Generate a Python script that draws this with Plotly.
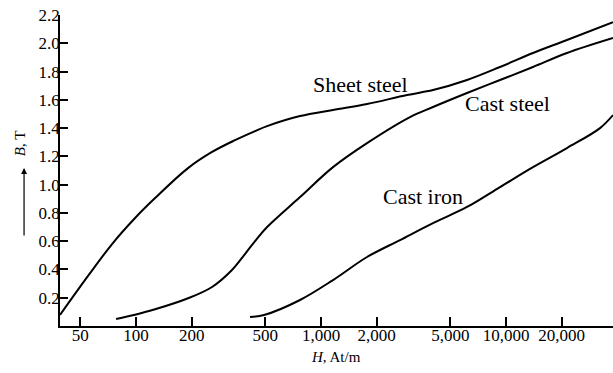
import math
import plotly.graph_objects as go

# B-H magnetization curves (H in At/m, B in T)
sheet_H = [38.8, 55, 74.2, 98.8, 126.7, 191, 257.5, 343, 440, 511, 770, 1161, 1773, 2917, 4031, 6155, 9281, 13990, 21360, 37880]
sheet_B = [0.078, 0.354, 0.58, 0.764, 0.905, 1.117, 1.231, 1.315, 1.379, 1.414, 1.485, 1.528, 1.57, 1.634, 1.669, 1.74, 1.832, 1.931, 2.023, 2.15]

cast_steel_H = [78, 98.8, 126.7, 191, 257.5, 330, 388, 440, 511, 770, 1161, 1773, 3028, 4031, 6155, 9281, 13990, 21360, 37880]
cast_steel_B = [0.05, 0.08, 0.118, 0.196, 0.276, 0.396, 0.509, 0.601, 0.70, 0.912, 1.124, 1.294, 1.478, 1.549, 1.648, 1.74, 1.832, 1.931, 2.037]

cast_iron_H = [413, 492, 770, 1161, 1773, 2673, 4031, 6155, 9281, 13990, 21360, 32230, 37880]
cast_iron_B = [0.064, 0.078, 0.184, 0.325, 0.488, 0.608, 0.728, 0.842, 0.983, 1.124, 1.259, 1.40, 1.492]

x_ticks = [50, 100, 200, 500, 1000, 2000, 5000, 10000, 20000]
x_tick_labels = ["50", "100", "200", "500", "1,000", "2,000", "5,000", "10,000", "20,000"]
y_ticks = [0.2, 0.4, 0.6, 0.8, 1.0, 1.2, 1.4, 1.6, 1.8, 2.0, 2.2]
y_tick_labels = ["0.2", "0.4", "0.6", "0.8", "1.0", "1.2", "1.4", "1.6", "1.8", "2.0", "2.2"]

x_min, x_max = 38.8, 37880
y_min, y_max = 0.0, 2.2

curve_labels = ["Sheet steel", "Cast steel", "Cast iron"]
label_pos = [(1625, 1.71), (10126, 1.575), (3559, 0.919)]

FONT = "Liberation Serif, Times New Roman, serif"

fig = go.Figure()
for H, B in [(sheet_H, sheet_B), (cast_steel_H, cast_steel_B), (cast_iron_H, cast_iron_B)]:
    fig.add_trace(go.Scatter(x=H, y=B, mode="lines",
                             line=dict(color="black", width=2, shape="spline", smoothing=1.0),
                             showlegend=False, hoverinfo="skip"))

for text, (hx, by) in zip(curve_labels, label_pos):
    fig.add_annotation(x=math.log10(hx), y=by, xref="x", yref="y", text=text,
                       showarrow=False, xanchor="center", yanchor="middle",
                       font=dict(family=FONT, size=22, color="black"))

# axis titles
fig.add_annotation(x=0.499, y=-0.0997, xref="paper", yref="paper",
                   text="<i>H</i>, At/m", showarrow=False,
                   xanchor="center", yanchor="middle",
                   font=dict(family=FONT, size=15, color="black"))
fig.add_annotation(x=-0.0723, y=0.588, xref="paper", yref="paper",
                   text="<i>B</i>, T", showarrow=False, textangle=-90,
                   xanchor="center", yanchor="middle",
                   font=dict(family=FONT, size=15, color="black"))
fig.add_annotation(x=-0.065, y=0.508, xref="paper", yref="paper", text="",
                   showarrow=True, ax=0, ay=69, arrowhead=2, arrowsize=1,
                   arrowwidth=1.2, arrowcolor="black")

fig.update_xaxes(type="log", range=[math.log10(x_min), math.log10(x_max)],
                 tickvals=x_ticks, ticktext=x_tick_labels,
                 showline=True, linecolor="black", linewidth=1.5,
                 ticks="inside", ticklen=9, tickwidth=1.5, tickcolor="black",
                 ticklabelstandoff=-7,
                 showgrid=False, zeroline=False,
                 tickfont=dict(family=FONT, size=17, color="black"))
fig.update_yaxes(range=[y_min, y_max], tickvals=y_ticks, ticktext=y_tick_labels,
                 showline=True, linecolor="black", linewidth=1.5,
                 ticks="inside", ticklen=8, tickwidth=1.5, tickcolor="black",
                 ticklabelstandoff=-5,
                 showgrid=False, zeroline=False,
                 tickfont=dict(family=FONT, size=17, color="black"))

fig.update_layout(width=613, height=373, margin=dict(l=60, r=0, t=15, b=47),
                  plot_bgcolor="white", paper_bgcolor="white")

fig.write_html("out.html", config={"displayModeBar": False},
               post_script="document.body.style.margin='0';")
